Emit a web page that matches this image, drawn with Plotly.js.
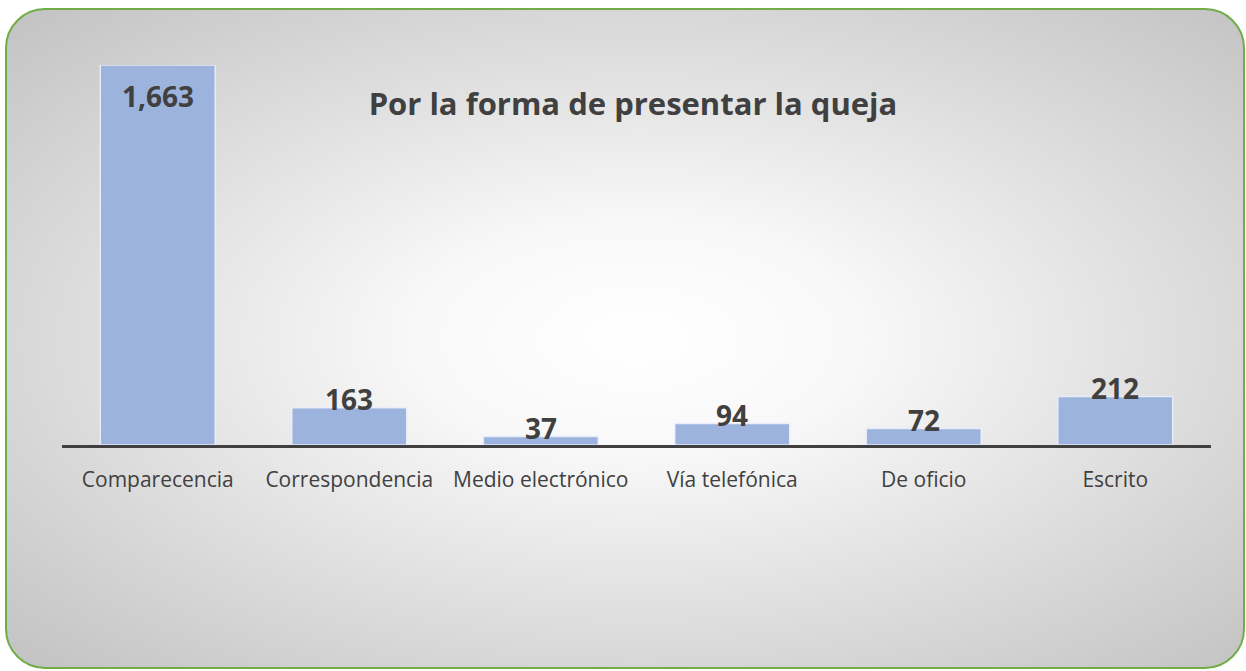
<!DOCTYPE html>
<html><head><meta charset="utf-8">
<script src="https://cdn.plot.ly/plotly-3.0.1.min.js"></script>
<style>
html,body{margin:0;padding:0;width:1246px;height:671px;background:#fff;overflow:hidden;}
#frame{position:absolute;left:5px;top:8px;width:1236px;height:657px;border:2px solid #70ad47;border-radius:40px;
background:radial-gradient(ellipse farthest-corner at 51% 50%, #ffffff 0%, #f8f8f8 25%, #dddddd 62%, #c2c2c2 100%);}
#chart{position:absolute;left:0;top:0;width:1246px;height:671px;}
</style></head>
<body>
<div id="frame"></div>
<div id="chart"></div>
<script>
const categories = ["Comparecencia","Correspondencia","Medio electrónico","Vía telefónica","De oficio","Escrito"];
const values = [1663,163,37,94,72,212];
const labels = ["1,663","163","37","94","72","212"];

const FONT = 'Open Sans, Liberation Sans, Arial, sans-serif';
const maxV = Math.max(...values);
const annotations = values.map((v,i)=>({
  x: categories[i], y: v, xref:'x', yref:'y',
  text: '<b>'+labels[i]+'</b>', showarrow:false,
  yanchor: v===maxV ? 'top' : 'bottom',
  yshift: v===maxV ? -10 : -12,
  font:{family:FONT, size:28, color:'#404040'}
}));

Plotly.newPlot('chart',[{
  type:'bar', x:categories, y:values, width:0.6,
  marker:{color:'#9cb3de', line:{color:'rgba(235,240,250,0.9)', width:1.5}},
  hoverinfo:'none'
}],{
  width:1246, height:671,
  paper_bgcolor:'rgba(0,0,0,0)', plot_bgcolor:'rgba(0,0,0,0)',
  margin:{l:62,r:35,t:65,b:226},
  title:{text:'<b>Por la forma de presentar la queja</b>', x:0.508, xanchor:'center', y:0.845, yanchor:'middle',
    font:{family:FONT, size:31, color:'#404040'}},
  xaxis:{showline:true, linecolor:'#404040', linewidth:3, ticks:'outside', ticklen:14, tickcolor:'rgba(0,0,0,0)',
    tickfont:{family:FONT, size:21, color:'#404040'}, fixedrange:true},
  yaxis:{range:[0,maxV], visible:false, showgrid:false, zeroline:false, fixedrange:true},
  annotations: annotations,
  showlegend:false
},{displayModeBar:false, staticPlot:true});
</script>
</body></html>
